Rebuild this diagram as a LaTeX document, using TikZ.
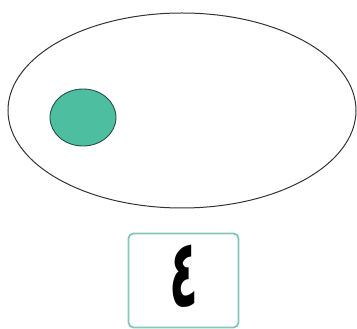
\documentclass[tikz,border=0pt]{standalone}
\usepackage{fontspec}
\newfontfamily\arabicfont[Script=Arabic]{DejaVu Sans}
\TeXXeTstate=1
\definecolor{tealfill}{RGB}{77,190,160}
\definecolor{tealedge}{RGB}{40,80,70}
\definecolor{boxedge}{RGB}{130,200,180}
\tikzset{
  outer/.style={draw=black!80, line width=1pt},
  dot/.style={fill=tealfill, draw=tealedge, line width=0.9pt},
  numbox/.style={draw=boxedge, line width=1.8pt, rounded corners=5pt, minimum width=110pt, minimum height=94pt, inner sep=0pt}
}
\begin{document}
\begin{tikzpicture}[x=1pt,y=1pt]
\useasboundingbox (0,0) rectangle (357,329);
\draw[outer] (182,218.5) ellipse [x radius=174, y radius=97.5];
\draw[dot] (83,211.5) ellipse [x radius=33, y radius=28.5];
\node[numbox] (box) at (183.5,48.5) {};
\node[xscale=0.85, yscale=1.7, inner sep=0pt] (digit) at (184,53) {\arabicfont\bfseries\fontsize{56}{56}\selectfont\beginR ٤\endR};
\end{tikzpicture}
\end{document}
